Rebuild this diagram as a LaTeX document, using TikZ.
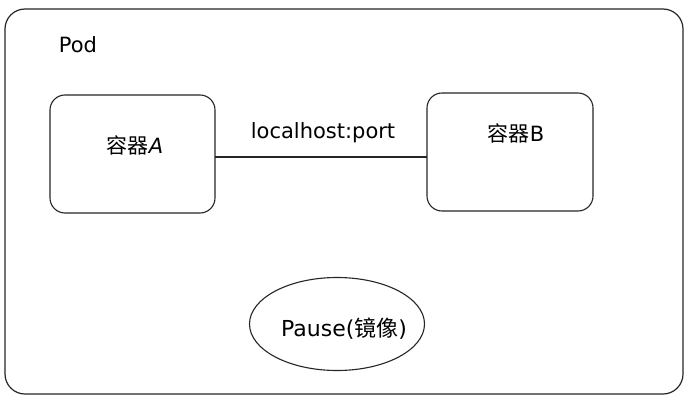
\documentclass[tikz,border=0pt]{standalone}
\usepackage{fontspec}
\setmainfont{DejaVu Sans}
\newfontfamily\cjk{Noto Sans CJK SC}
\usetikzlibrary{shapes.geometric}
\begin{document}
\begin{tikzpicture}[x=1pt,y=-1pt,
  frame/.style={draw=black!85,line width=1.2pt,rounded corners=20pt},
  cbox/.style={draw=black!85,line width=1.1pt,rounded corners=15pt},
  lbl/.style={font=\fontsize{21}{24}\selectfont,inner sep=0pt},
  link/.style={draw=black!85,line width=1.1pt}]
\useasboundingbox (0,0) rectangle (690,401);
\fill[white] (0,0) rectangle (690,401);
\draw[frame] (5,9) rectangle (683,394);
\node[lbl,font=\fontsize{21}{24}\selectfont,anchor=center] (pod) at (78,45) {Pod};
\draw[cbox] (50,95) rectangle (215,213);
\coordinate (aR) at (215,157);
\node[lbl] (ta) at (135,145) {{\cjk 容器}\textit{A}};
\draw[cbox] (427,93) rectangle (593,211);
\coordinate (bL) at (427,157);
\node[lbl] (tb) at (516,133) {{\cjk 容器}B};
\draw[link] (aR) -- (bL);
\node[lbl] (lh) at (323,133) {localhost:port};
\node[ellipse,draw=black!85,line width=1.1pt,minimum width=175pt,minimum height=93pt,inner sep=0pt] (pause) at (337,324) {};
\node[lbl,font=\fontsize{22}{25}\selectfont] (tp) at (344,329) {Pause({\cjk 镜像})};
\end{tikzpicture}
\end{document}
